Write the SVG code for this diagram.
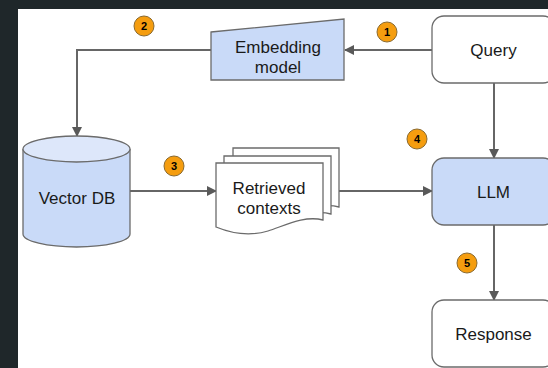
<svg xmlns="http://www.w3.org/2000/svg" width="548" height="368" viewBox="0 0 548 368">
  <defs>
    <marker id="arrow" viewBox="0 0 10 10" refX="9" refY="5" markerWidth="10" markerHeight="10" markerUnits="userSpaceOnUse" orient="auto">
      <path d="M0,0 L10,5 L0,10 Z" fill="#595959"/>
    </marker>
    <style>
      .shape { stroke: #6b6b6b; stroke-width: 1.3; }
      .blue { fill: #c9daf8; }
      .white { fill: #ffffff; }
      .conn { fill: none; stroke: #666666; stroke-width: 2; }
      .label { font-family: "Liberation Sans", Arial, sans-serif; font-size: 17px; fill: #1a1a1a; text-anchor: middle; }
      .badge circle { fill: #f59d0f; stroke: #8a6a30; stroke-width: 1; }
      .badge text { font-family: "Liberation Sans", Arial, sans-serif; font-size: 11px; font-weight: bold; fill: #000; text-anchor: middle; }
    </style>
  </defs>

  <!-- page background -->
  <rect x="0" y="0" width="548" height="368" fill="#1f272a"/>
  <rect x="18" y="9" width="530" height="359" fill="#ffffff"/>

  <!-- connectors -->
  <g id="connectors">
    <path class="conn" d="M432,50 H345" marker-end="url(#arrow)"/>
    <path class="conn" d="M211,50 H77 V136" marker-end="url(#arrow)"/>
    <path class="conn" d="M130,191 H216" marker-end="url(#arrow)"/>
    <path class="conn" d="M339,191 H432" marker-end="url(#arrow)"/>
    <path class="conn" d="M494,83 V158" marker-end="url(#arrow)"/>
    <path class="conn" d="M494,225 V300" marker-end="url(#arrow)"/>
  </g>

  <!-- nodes -->
  <g id="query">
    <rect class="shape white" x="432" y="16" width="123" height="67" rx="12"/>
    <text class="label" x="493.5" y="56">Query</text>
  </g>

  <g id="embedding-model">
    <polygon class="shape blue" points="211,32 344,19 344,80 211,80"/>
    <text class="label" x="278" y="53">Embedding</text>
    <text class="label" x="278" y="73">model</text>
  </g>

  <g id="vector-db">
    <path class="shape blue" d="M23,149 V234 A53.5,13 0 0 0 130,234 V149"/>
    <ellipse class="shape" cx="76.5" cy="149" rx="53.5" ry="13" fill="#dde7fa"/>
    <text class="label" x="77" y="204">Vector DB</text>
  </g>

  <g id="retrieved-contexts">
    <path class="shape white" d="M233,148 H339 V207 C320,202 300,212 285,217 C268,222 250,221 233,214 Z"/>
    <path class="shape white" d="M224,156 H331 V214 C312,209 292,219 277,224 C260,229 242,228 224,221 Z"/>
    <path class="shape white" d="M216,163 H323 V220 C304,215 284,226 268,231 C251,236 233,234 216,227 Z"/>
    <text class="label" x="269" y="194">Retrieved</text>
    <text class="label" x="269" y="214">contexts</text>
  </g>

  <g id="llm">
    <rect class="shape blue" x="432" y="158" width="123" height="67" rx="12"/>
    <text class="label" x="493.5" y="198">LLM</text>
  </g>

  <g id="response">
    <rect class="shape white" x="432" y="300" width="123" height="67" rx="12"/>
    <text class="label" x="493.5" y="340">Response</text>
  </g>

  <!-- step badges -->
  <g id="step-1" class="badge"><circle cx="387" cy="32" r="10"/><text x="387" y="36">1</text></g>
  <g id="step-2" class="badge"><circle cx="144" cy="26" r="10"/><text x="144" y="30">2</text></g>
  <g id="step-3" class="badge"><circle cx="174" cy="166" r="10"/><text x="174" y="170">3</text></g>
  <g id="step-4" class="badge"><circle cx="417" cy="139" r="10"/><text x="417" y="143">4</text></g>
  <g id="step-5" class="badge"><circle cx="467" cy="263" r="10"/><text x="467" y="267">5</text></g>
</svg>
